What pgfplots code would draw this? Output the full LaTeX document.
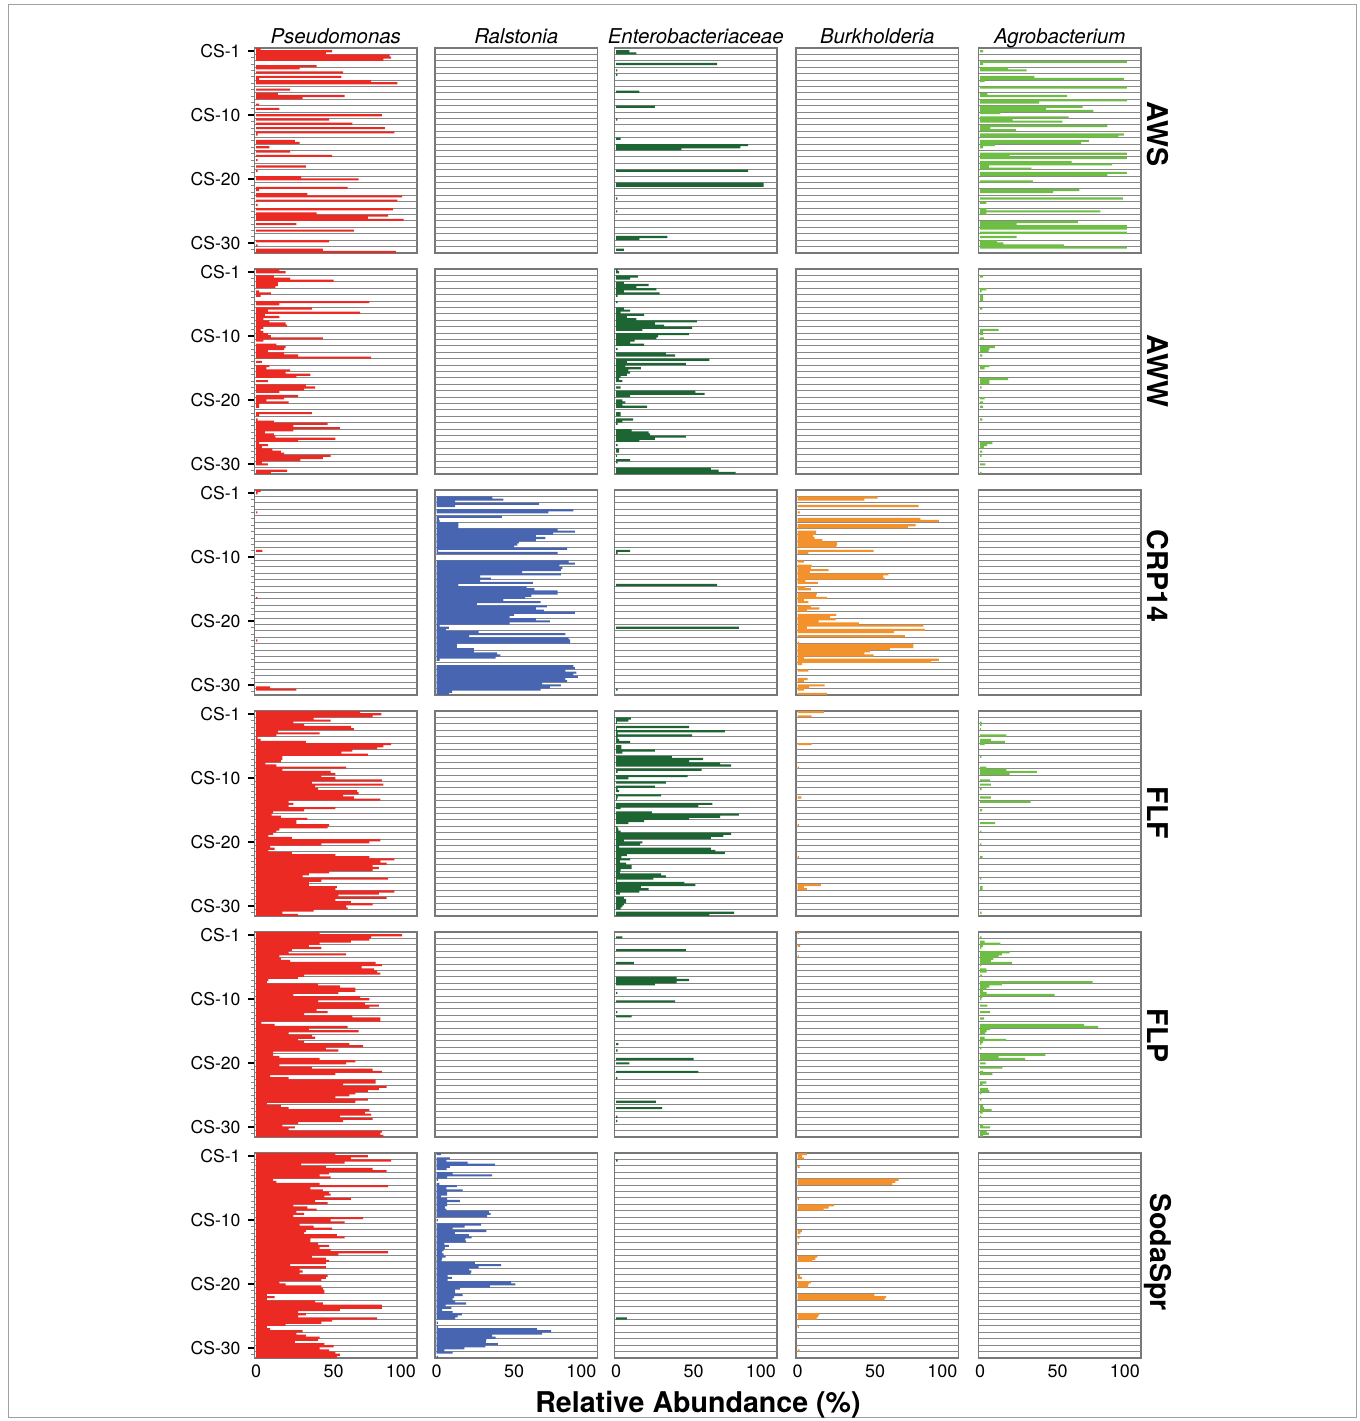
\documentclass[border=0pt]{standalone}
\usepackage{fontspec}
\setmainfont{TeX Gyre Heros}
\usepackage{pgfplots}
\pgfplotsset{compat=1.18}
\definecolor{pseudo}{RGB}{236,42,36}
\definecolor{ralst}{RGB}{72,101,178}
\definecolor{entero}{RGB}{29,102,52}
\definecolor{burk}{RGB}{243,146,45}
\definecolor{agro}{RGB}{110,189,68}
\definecolor{gridgrey}{RGB}{135,135,135}
\definecolor{framegrey}{RGB}{120,120,120}
\pgfplotsset{
  base/.style={
    scale only axis, width=81.25pt, height=102.5pt, anchor=south west,
    xmin=-1, xmax=103.6, ymin=-0.5, ymax=95.5, y dir=reverse,
    axis line style={draw=framegrey, line width=0.7pt},
    xbar, bar width=1, bar shift=0pt,
    tick align=outside, major tick length=3.5pt, minor tick length=2pt,
    ytick pos=left, xtick pos=bottom,
    xtick=\empty, ytick=\empty,
    extra y ticks={2.5,5.5,...,92.5},
    extra y tick labels={},
    extra y tick style={grid=major, tick style={draw=none}},
    major grid style={draw=gridgrey, line width=0.5pt},
    /pgf/number format/assume math mode=true,
    title style={font=\itshape\fontsize{10.2}{12}\selectfont, anchor=base, at={(0.5,1)}, yshift=-3.5pt},
  },
  col1/.style={ytick={1,31,61,91}, yticklabels={CS-1,CS-10,CS-20,CS-30},
    minor ytick={4,7,...,94},
    yticklabel style={font=\fontsize{8.8}{10}\selectfont},
    major tick style={black, line width=1pt},
    minor tick style={gridgrey, line width=0.5pt}},
  bottom/.style={xtick={0,50,100}, xticklabels={0,50,\makebox[0pt][r]{100\hspace*{-2.2pt}}},
    xtick style={draw=none},
    xticklabel style={font=\fontsize{9}{10}\selectfont, yshift=3.5pt}},
  bars/.style={draw=none, fill=#1},
}
\begin{document}
\begin{tikzpicture}
\useasboundingbox (0,0) rectangle (680pt,710.5pt);
\draw[draw={rgb,255:red,160;green,160;blue,160}, line width=0.5pt] (4pt,1.5pt) rectangle (678pt,708pt);
% ================= ROW 1 : AWS =================
\begin{axis}[base,col1,at={(127.25pt,584pt)},title={Pseudomonas}]
\addplot[bars=pseudo] coordinates {(3,0)(49,1)(45,2)(86,3)(87,4)(82,5)(39,8)(28,9)(56,11)(55,13)(2,14)(74,15)(91,16)(22,19)(14,21)(57,22)(30,23)(2,26)(15,28)(81,31)(47,33)(62,35)(83,37)(89,39)(1,40)(25,43)(28,44)(8.5,46)(22,48)(49,50)(1,52)(32,55)(1,57)(29,60)(66,61)(59,65)(2,66)(33,68)(94,69)(91,71)(1,73)(88,75)(39,77)(85,78)(72,79)(95,80)(26,82)(63,85)(47,90)(1,92)(43,94)(90,95)};
\end{axis}
\begin{axis}[base,at={(217.5pt,584pt)},title={Ralstonia}]
\end{axis}
\begin{axis}[base,at={(307.25pt,584pt)},title={Enterobacteriaceae}]
\addplot[bars=entero] coordinates {(8.5,1)(13,2)(65,7)(0.8,10)(0.8,12)(15,20)(25,27)(0.8,33)(3,42)(85,45)(80,46)(42,47)(85,57)(95,63)(95,64)(0.8,70)(0.8,76)(33,88)(15,89)(5,94)};
\end{axis}
\begin{axis}[base,at={(398pt,584pt)},title={Burkholderia}]
\end{axis}
\begin{axis}[base,at={(489.25pt,584pt)},title={Agrobacterium}]
\addplot[bars=agro] coordinates {(2,1)(94.5,6)(2,7)(18,9)(30,10)(35,13)(92.6,14)(3,15)(94.5,18)(4.7,21)(56,22)(94.5,24)(38,25)(66,27)(42.5,28)(73,29)(13,30)(57,32)(21,33)(53,34)(82,36)(6.6,37)(23,38)(92.6,40)(89,41)(70,43)(65,44)(9.5,45)(2,46)(94.5,49)(19,50)(94.5,51)(59,53)(85,54)(5.7,55)(33,56)(94.5,58)(82,59)(34,62)(64,66)(47,67)(92,70)(4,72)(4,75)(77.5,76)(4,77)(63,81)(23.6,82)(94.5,83)(94.5,84)(94.5,86)(23.6,88)(11,90)(15,91)(54,92)(94.5,93)};
\end{axis}
% ================= ROW 2 : AWW =================
\begin{axis}[base,col1,at={(127.25pt,473.5pt)}]
\addplot[bars=pseudo] coordinates {(15,0)(19,1)(11.4,3)(22,4)(50,5)(14,6)(14,7)(12.4,8)(2,10)(9.5,11)(3,12)(73,15)(15,16)(36,18)(7.6,19)(67,20)(5.7,21)(15,22)(4.7,23)(8.5,24)(19,25)(20,26)(4.7,27)(3,28)(4.7,29)(7.6,30)(9.5,31)(43,32)(4.7,33)(13,35)(19,36)(18,37)(7.6,38)(18,39)(27,40)(74,41)(3.8,43)(8.5,45)(6.6,46)(22,47)(19,48)(35,49)(26,50)(7.6,52)(32,54)(38,55)(31,56)(15,57)(27,59)(18,60)(6.6,61)(21,62)(2,63)(2,64)(36,67)(2,68)(1,70)(11.4,71)(46,72)(24,73)(54,74)(24,75)(5.7,76)(11.4,77)(12.4,78)(51,79)(27,80)(2,81)(7.6,82)(3.8,83)(10.5,84)(16,85)(18,86)(48,87)(43,88)(28.5,89)(3.8,90)(7.6,91)(20,94)(9.5,95)};
\end{axis}
\begin{axis}[base,at={(217.5pt,473.5pt)}]
\end{axis}
\begin{axis}[base,at={(307.25pt,473.5pt)}]
\addplot[bars=entero] coordinates {(1,0)(2,1)(14,3)(9,4)(5,6)(21,7)(13,8)(26,9)(5,10)(28,11)(1,12)(1,15)(5,18)(9,19)(3,20)(18,21)(7,22)(13,23)(52,24)(25,25)(31,26)(49,27)(17,28)(47,30)(27,31)(26,32)(12,33)(9,34)(18,35)(1,37)(32,39)(38,40)(60,42)(7,43)(45,44)(6,45)(16,46)(8,47)(9,48)(7,49)(3,50)(2,51)(4,52)(3,55)(51,57)(57,58)(9,59)(4,61)(6,62)(4,63)(20,64)(3,67)(3,68)(11,70)(4,71)(1,72)(10,75)(21,76)(22,77)(45,78)(25,79)(15,80)(1,82)(2,84)(2,85)(0.5,87)(9,89)(1,90)(61,93)(66,94)(77,95)};
\end{axis}
\begin{axis}[base,at={(398pt,473.5pt)}]
\end{axis}
\begin{axis}[base,at={(489.25pt,473.5pt)}]
\addplot[bars=agro] coordinates {(2,3)(4,9)(1,10)(2,12)(2,13)(2,14)(1.5,18)(12,28)(2,29)(2,30)(2.5,32)(9.5,36)(6,37)(5.5,38)(1.5,40)(6,45)(3,46)(18,51)(6,52)(6,53)(1,55)(3,60)(2,62)(2,64)(1.5,70)(8,81)(4.5,82)(2.5,83)(1.5,85)(1,87)(3.5,91)(1,95)};
\end{axis}
% ================= ROW 3 : CRP14 =================
\begin{axis}[base,col1,at={(127.25pt,363pt)}]
\addplot[bars=pseudo] coordinates {(3,0)(1,1)(0.8,10)(4,28)(0.8,50)(0.8,70)(9,92)(26,93)};
\end{axis}
\begin{axis}[base,at={(217.5pt,363pt)}]
\addplot[bars=ralst] coordinates {(36,3)(43,4)(12,5)(66,6)(12,7)(88,9)(72,10)(42,12)(1.5,13)(2,14)(14,15)(14,16)(14,17)(78,18)(89,19)(75,20)(64,21)(70,22)(64,23)(53,24)(52,25)(50,26)(84,27)(1,28)(78,29)(85,33)(89,34)(79,35)(81,36)(80,37)(55,38)(80,39)(28,40)(35,41)(28,42)(62,43)(14,44)(58,45)(63,46)(78,47)(78,48)(61,49)(57,50)(43,51)(67,52)(26,53)(71,54)(64,55)(69,56)(89,57)(50,58)(47,59)(64,60)(73,61)(47,62)(2,63)(8,64)(6,65)(27,66)(83,67)(21,68)(85,69)(86,70)(86,71)(13,72)(13,73)(24,74)(24,75)(39,76)(41,77)(38,78)(2,79)(88,82)(89,83)(83,84)(90,85)(88,86)(91,87)(83,88)(84,89)(68,90)(80,91)(73,92)(67,93)(10,94)(8,95)};
\end{axis}
\begin{axis}[base,at={(307.25pt,363pt)}]
\addplot[bars=entero] coordinates {(9,28)(1,29)(65,44)(79,64)(1,93)};
\end{axis}
\begin{axis}[base,at={(398pt,363pt)}]
\addplot[bars=burk] coordinates {(51.5,3)(43,4)(78,7)(1.5,10)(79,13)(91,14)(76,16)(71,17)(12,19)(12,20)(10,21)(11,22)(16,23)(25.5,24)(25.5,25)(25,26)(49,28)(7,29)(4,33)(9,35)(8.5,36)(20,37)(8,38)(58.5,39)(55,40)(56,41)(5,42)(13,43)(5,45)(8.5,46)(12.5,48)(12,49)(19,50)(4,51)(7,52)(8.5,54)(14,55)(6,56)(25,58)(21,59)(24.5,60)(13.5,61)(39.5,62)(81,63)(6,64)(82,65)(62,66)(69,68)(1,71)(74.5,72)(74.5,73)(59.5,74)(46.5,75)(43,76)(49,77)(4,78)(91,79)(86,80)(3,81)(7,84)(6.5,88)(4,89)(17.5,91)(7.5,92)(4,93)(19,95)};
\end{axis}
\begin{axis}[base,at={(489.25pt,363pt)}]
\end{axis}
% ================= ROW 4 : FLF =================
\begin{axis}[base,col1,at={(127.25pt,252.5pt)}]
\addplot[bars=pseudo] coordinates {(67,0)(80.6,1)(75,2)(37,3)(48,4)(24,5)(31,6)(61,7)(63,8)(14,9)(41,10)(13,11)(1,12)(3,13)(32,14)(87,15)(82,16)(78,17)(62,18)(55,19)(72,20)(17,21)(17,22)(16,23)(6,24)(13,25)(58,26)(17,27)(48,28)(51,29)(42,30)(51,31)(81,32)(36,33)(82,34)(38,35)(40,36)(65,37)(66,38)(56,39)(63,40)(80,41)(21,42)(24,43)(21,44)(51,45)(31,46)(11,47)(10,48)(16,49)(33,50)(26,51)(26,52)(47,53)(46,54)(15,55)(13,56)(11,57)(8,58)(23,59)(80,60)(73,61)(42,62)(9,63)(12,64)(8,65)(23,66)(51,67)(73,68)(89,69)(80,70)(84,71)(75,72)(79,73)(75,74)(47,75)(34,76)(30,77)(85,78)(42,79)(34,80)(34,81)(52,82)(51,83)(89,84)(79,85)(53,86)(84,87)(51,88)(61,89)(75,90)(58,91)(59,92)(37,93)(17,94)(27,95)};
\end{axis}
\begin{axis}[base,at={(217.5pt,252.5pt)}]
\end{axis}
\begin{axis}[base,at={(307.25pt,252.5pt)}]
\addplot[bars=entero] coordinates {(9.5,3)(8,4)(0.5,5)(47,7)(0.5,8)(70,9)(1,10)(49,11)(1,12)(2,13)(9,14)(3.5,16)(3.5,17)(25,18)(4,19)(36,21)(56,22)(47,23)(67,24)(74,25)(55,27)(1,28)(46,30)(8,31)(32,33)(25,35)(1,36)(2,37)(29,39)(1,40)(0.5,41)(62,43)(53,44)(3,45)(23,47)(79,48)(67,49)(47,50)(18,51)(8,52)(1,54)(1.5,55)(3,56)(74,57)(69,58)(61,59)(5,60)(17,61)(15.5,62)(2,63)(61,64)(64,65)(70,66)(7,67)(3.5,68)(9,69)(2.5,70)(6.5,71)(10,72)(10,73)(3,74)(2.5,75)(29,76)(32,77)(24,78)(0.5,79)(44,80)(51,81)(16,82)(21,83)(15,84)(2.5,85)(5,87)(6.5,88)(6.5,89)(5,90)(4,91)(3,92)(76,94)(60,95)};
\end{axis}
\begin{axis}[base,at={(398pt,252.5pt)}]
\addplot[bars=burk] coordinates {(17,0)(9,2)(9,15)(1,26)(2.5,40)(1,53)(1,68)(15,81)(4,82)(6,83)};
\end{axis}
\begin{axis}[base,at={(489.25pt,252.5pt)}]
\addplot[bars=agro] coordinates {(1,5)(1,6)(0.5,8)(17,11)(7,13)(16,14)(3,15)(0.8,21)(4,26)(17,27)(36.5,28)(19,29)(6.5,32)(7,34)(1,36)(7,40)(32.6,42)(1.3,46)(9.7,52)(0.8,56)(0.8,62)(1.7,68)(0.8,78)(1.7,82)(1.7,83)(1,94)};
\end{axis}
% ================= ROW 5 : FLP =================
\begin{axis}[base,col1,at={(127.25pt,142pt)}]
\addplot[bars=pseudo] coordinates {(41,0)(94,1)(74,2)(73,3)(61,4)(41,5)(34,6)(42,7)(23,8)(21,9)(58,10)(15,11)(16,12)(22,13)(77,14)(81,15)(68,16)(76,17)(78,18)(80,19)(31,20)(27,21)(8,22)(7,23)(40,24)(54,25)(64,26)(64,27)(53,28)(24,29)(67,30)(73,31)(40,32)(70,33)(79,34)(73,35)(39,36)(46,37)(31,38)(62,39)(80,40)(80,41)(3.5,42)(12,43)(59,44)(34,45)(66,46)(21,47)(36,48)(38,49)(27,50)(31,51)(60,52)(69,53)(45,54)(53,55)(11,56)(11,57)(15,58)(41,59)(64,60)(58,61)(15,62)(36,63)(75,64)(81,65)(51,66)(9,67)(21,68)(77,69)(77,70)(56,71)(84,72)(79,73)(72,74)(64,75)(60,76)(51,77)(72,78)(64,79)(7,80)(16,81)(21,82)(73,83)(70,84)(74,85)(54,86)(75,87)(56,88)(27,89)(17,90)(25,91)(21,92)(81,93)(80,94)(82,95)};
\end{axis}
\begin{axis}[base,at={(217.5pt,142pt)}]
\end{axis}
\begin{axis}[base,at={(307.25pt,142pt)}]
\addplot[bars=entero] coordinates {(4,2)(45,8)(11.5,14)(39,21)(47,22)(39,23)(25,24)(0.8,28)(38,32)(0.8,37)(10,39)(1.5,52)(1,55)(50,59)(8.5,61)(53,65)(0.8,68)(25.6,79)(29.6,82)(0.8,86)(0.8,88)};
\end{axis}
\begin{axis}[base,at={(398pt,142pt)}]
\addplot[bars=burk] coordinates {(1,0)(1.6,6)(0.8,11)};
\end{axis}
\begin{axis}[base,at={(489.25pt,142pt)}]
\addplot[bars=agro] coordinates {(1,2)(3,4)(13,5)(2,6)(0.8,7)(19,9)(14,10)(12,11)(8.5,12)(7,13)(20.6,14)(0.8,15)(4,17)(4.3,18)(1.3,20)(72.5,23)(14,24)(6,25)(4.3,26)(2,27)(4.3,28)(48,29)(1.5,30)(0.8,31)(4.7,34)(6.4,37)(2.6,40)(67,43)(76,44)(6.4,45)(4.3,46)(3.2,47)(3,49)(16.7,50)(2,51)(0.8,52)(0.8,54)(42,57)(12,58)(29,59)(3.6,61)(14.4,63)(2,65)(8,66)(4,70)(1.7,71)(5,73)(6,74)(0.8,75)(0.8,78)(2,81)(2.6,82)(7.5,83)(1.7,84)(0.8,86)(2,90)(6.4,91)(4.3,93)(5.6,94)(2,95)};
\end{axis}
% ================= ROW 6 : SodaSpr =================
\begin{axis}[base,col1,bottom,at={(127.25pt,31.5pt)}]
\addplot[bars=pseudo] coordinates {(51,0)(72,1)(61,2)(87,3)(57,4)(29,5)(45,6)(75,7)(84,8)(47,9)(41,10)(48,11)(11,12)(13,13)(41,14)(85,15)(35,16)(43,17)(47,18)(48,19)(44,20)(61,21)(38,22)(46,23)(24,24)(33,25)(39,26)(26,27)(31,28)(24,29)(69,30)(48,31)(57,32)(28,33)(37,34)(49,35)(32,36)(31,37)(52,38)(57,39)(35,40)(35,41)(40,42)(47,43)(41,44)(48,45)(85,46)(53,47)(36,48)(45,49)(47,50)(45,51)(22,52)(45,53)(28,54)(30,55)(28,56)(46,57)(45,58)(42,59)(15,60)(19,61)(42,62)(43,63)(44,64)(44,65)(7,66)(12,67)(7,68)(38,69)(43,70)(81,71)(81,72)(54,73)(27,74)(32,75)(27,76)(78,77)(49,78)(42,79)(19,80)(7,81)(9,82)(30,83)(26,84)(32,85)(41,86)(40,87)(25,88)(44,89)(50,90)(41,91)(47,92)(51,93)(54,94)(52,95)};
\end{axis}
\begin{axis}[base,bottom,at={(217.5pt,31.5pt)}]
\addplot[bars=ralst] coordinates {(2.7,0)(8.6,2)(6.3,3)(20,4)(37.5,5)(8.6,6)(6.5,7)(10.4,9)(35.7,10)(6.8,11)(1,12)(1.8,14)(13,15)(6.3,16)(16.7,17)(6.8,18)(6.8,19)(2.7,20)(6.8,21)(15,22)(6.8,23)(6.8,24)(5.4,25)(6.3,26)(33.7,27)(34.8,28)(32.6,29)(0.8,31)(28.7,33)(18,34)(10.4,35)(32,36)(11.8,37)(20.8,38)(22.6,39)(18.5,40)(19,41)(5,42)(8,43)(5.4,44)(4.5,45)(3.6,46)(4.5,47)(5.9,48)(3.6,49)(3.2,50)(24.7,51)(41.6,52)(27,53)(21,54)(22.4,55)(22,56)(7.2,57)(10,58)(7.2,59)(48,60)(50.7,61)(34.4,62)(15,63)(11.8,64)(12,65)(16.7,66)(11.3,67)(10.4,68)(12,69)(19,70)(5.9,71)(9.5,72)(3.6,73)(10.4,74)(16.3,75)(13.6,76)(12,77)(0.8,79)(1,81)(64.7,82)(73.8,83)(68,84)(35.7,85)(38,86)(32,87)(31.7,88)(39.4,89)(31.4,90)(17.9,91)(5,92)(10.4,93)(1,95)};
\end{axis}
\begin{axis}[base,bottom,at={(307.25pt,31.5pt)}]
\addplot[bars=entero] coordinates {(1,3)(7,77)};
\end{axis}
\begin{axis}[base,bottom,at={(398pt,31.5pt)}]
\addplot[bars=burk] coordinates {(6,0)(2.7,1)(4,2)(1.4,6)(65,12)(63,13)(61,14)(1,21)(23.5,24)(20,25)(16.7,26)(2.7,36)(1.8,37)(1.4,39)(0.8,42)(12.7,48)(11.5,49)(9.5,50)(1.6,57)(2.7,58)(8.6,60)(7.2,61)(6.6,62)(49.5,66)(57,67)(56,68)(14,75)(13.3,76)(12.2,77)(0.8,81)(1.4,92)};
\end{axis}
\begin{axis}[base,bottom,at={(489.25pt,31.5pt)}]
\end{axis}
% ================= labels =================
\begin{scope}[every node/.style={font=\bfseries\fontsize{14.3}{16}\selectfont, rotate=-90}]
\node at (579pt,643.5pt) {AWS};
\node at (579pt,525pt) {AWW};
\node at (579pt,422.5pt) {CRP14};
\node at (579pt,304pt) {FLF};
\node at (579pt,192.5pt) {FLP};
\node at (579pt,84.5pt) {SodaSpr};
\end{scope}
\node[font=\bfseries\fontsize{14.3}{16}\selectfont, anchor=base] at (349pt,4.5pt) {Relative Abundance (\%)};
\end{tikzpicture}
\end{document}
